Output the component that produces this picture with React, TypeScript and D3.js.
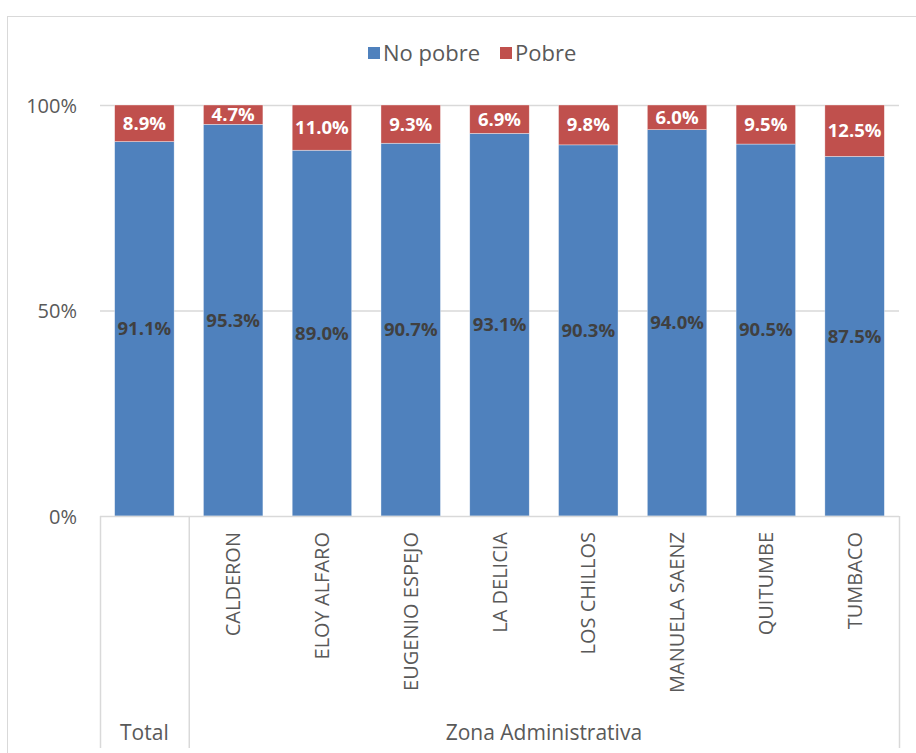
import { useEffect, useRef } from 'react';
import * as d3 from 'd3';

const categories = ['Total', 'CALDERON', 'ELOY ALFARO', 'EUGENIO ESPEJO', 'LA DELICIA', 'LOS CHILLOS', 'MANUELA SAENZ', 'QUITUMBE', 'TUMBACO'];
const noPobre = [91.1, 95.3, 89.0, 90.7, 93.1, 90.3, 94.0, 90.5, 87.5];
const pobre = [8.9, 4.7, 11.0, 9.3, 6.9, 9.8, 6.0, 9.5, 12.5];
const yTicks = [0, 0.5, 1];
const groups = [
  { label: 'Total', from: 'Total', to: 'Total' },
  { label: 'Zona Administrativa', from: 'CALDERON', to: 'TUMBACO' },
];
const legendItems = ['No pobre', 'Pobre'];

const BLUE = '#4f81bd';
const RED = '#c0504d';
const TEXT = '#595959';
const GRID = '#d9d9d9';
const FONT = '"Open Sans", "Noto Sans", sans-serif';

export default function App() {
  const svgRef = useRef<SVGSVGElement>(null);

  useEffect(() => {
    if (!svgRef.current) return;
    const svg = d3.select(svgRef.current);
    svg.selectAll('*').remove();

    const W = 916, H = 753;
    const left = 100, right = 899, top = 105, bottom = 516;

    // chart frame
    svg.append('rect')
      .attr('x', 7.5).attr('y', 16.5).attr('width', W + 20).attr('height', H + 20)
      .attr('fill', '#fff').attr('stroke', GRID).attr('stroke-width', 1);

    const x = d3.scaleBand().domain(categories).range([left, right])
      .paddingInner(0.33).paddingOuter(0.165);
    const y = d3.scaleLinear().domain([0, 1]).range([bottom, top]);

    // gridlines
    svg.append('g')
      .selectAll('line').data(yTicks.filter(t => t > 0)).enter().append('line')
      .attr('x1', left).attr('x2', right)
      .attr('y1', d => y(d) + 0.5).attr('y2', d => y(d) + 0.5)
      .attr('stroke', GRID).attr('stroke-width', 1.5);

    // y axis labels
    svg.append('g')
      .call(d3.axisLeft(y).tickValues(yTicks).tickFormat(d3.format('.0%')).tickSize(0).tickPadding(0))
      .attr('transform', `translate(77,0)`)
      .call(g => g.select('.domain').remove())
      .call(g => g.selectAll('text').attr('fill', TEXT).attr('font-size', '20px').attr('font-family', FONT).attr('dy', '0.35em'));

    const rows = categories.map((c, i) => ({ c, a: noPobre[i] / 100, b: pobre[i] / 100, la: noPobre[i], lb: pobre[i] }));

    // bars: no pobre
    svg.append('g').selectAll('rect').data(rows).enter().append('rect')
      .attr('x', d => x(d.c)!)
      .attr('width', x.bandwidth())
      .attr('y', d => y(d.a))
      .attr('height', d => y(0) - y(d.a))
      .attr('fill', BLUE).attr('stroke', '#fff').attr('stroke-width', 0.6).attr('stroke-opacity', 0.6);

    // bars: pobre
    svg.append('g').selectAll('rect').data(rows).enter().append('rect')
      .attr('x', d => x(d.c)!)
      .attr('width', x.bandwidth())
      .attr('y', y(1))
      .attr('height', d => y(d.a) - y(1))
      .attr('fill', RED).attr('stroke', '#fff').attr('stroke-width', 0.6).attr('stroke-opacity', 0.6);

    // data labels
    svg.append('g').selectAll('text').data(rows).enter().append('text')
      .attr('x', d => x(d.c)! + x.bandwidth() / 2)
      .attr('y', d => (y(0) + y(d.a)) / 2)
      .attr('dy', '0.35em').attr('text-anchor', 'middle')
      .attr('fill', '#404040').attr('font-weight', 'bold').attr('font-size', '18.5px').attr('font-family', FONT)
      .text(d => `${d.la.toFixed(1)}%`);

    svg.append('g').selectAll('text').data(rows).enter().append('text')
      .attr('x', d => x(d.c)! + x.bandwidth() / 2)
      .attr('y', d => (y(1) + y(d.a)) / 2)
      .attr('dy', '0.35em').attr('text-anchor', 'middle')
      .attr('fill', '#fff').attr('font-weight', 'bold').attr('font-size', '18.5px').attr('font-family', FONT)
      .text(d => `${d.lb.toFixed(1)}%`);

    // x axis line
    svg.append('line').attr('x1', left).attr('x2', right).attr('y1', bottom + 0.5).attr('y2', bottom + 0.5)
      .attr('stroke', GRID).attr('stroke-width', 1.5);

    // rotated category labels (Total sits in the group row)
    svg.append('g').selectAll('text').data(categories.slice(1)).enter().append('text')
      .attr('transform', d => `translate(${x(d)! + x.bandwidth() / 2},${bottom + 16}) rotate(-90)`)
      .attr('dy', '0.35em').attr('text-anchor', 'end')
      .attr('fill', TEXT).attr('font-size', '20px').attr('font-family', FONT)
      .text(d => d);

    // group separators and labels
    const step = x.step();
    const edges = [left, left + step, right];
    svg.append('g').selectAll('line').data(edges).enter().append('line')
      .attr('x1', d => d + 0.5).attr('x2', d => d + 0.5)
      .attr('y1', bottom).attr('y2', 748)
      .attr('stroke', GRID).attr('stroke-width', 1.5);

    svg.append('g').selectAll('text').data(groups).enter().append('text')
      .attr('x', g => (x(g.from)! - x.paddingOuter() * step + x(g.to)! + x.bandwidth() + x.paddingOuter() * step) / 2)
      .attr('y', 733).attr('dy', '0.35em').attr('text-anchor', 'middle')
      .attr('fill', TEXT).attr('font-size', '21px').attr('font-family', FONT)
      .text(g => g.label);

    // legend
    const legColor = d3.scaleOrdinal<string>().domain(legendItems).range([BLUE, RED]);
    const leg = svg.append('g').attr('font-family', FONT).attr('font-size', '22px');
    const offsets = [368, 500];
    legendItems.forEach((name, i) => {
      const gx = offsets[i];
      leg.append('rect').attr('x', gx).attr('y', 47).attr('width', 12).attr('height', 12).attr('fill', legColor(name));
      leg.append('text').attr('x', gx + 15).attr('y', 53).attr('dy', '0.35em').attr('fill', TEXT).text(name);
    });
  }, []);

  return (
    <div style={{ position: 'absolute', left: 0, top: 0, width: 916, height: 753, overflow: 'hidden' }}>
      <svg ref={svgRef} width={916} height={753} style={{ display: 'block' }} />
    </div>
  );
}
